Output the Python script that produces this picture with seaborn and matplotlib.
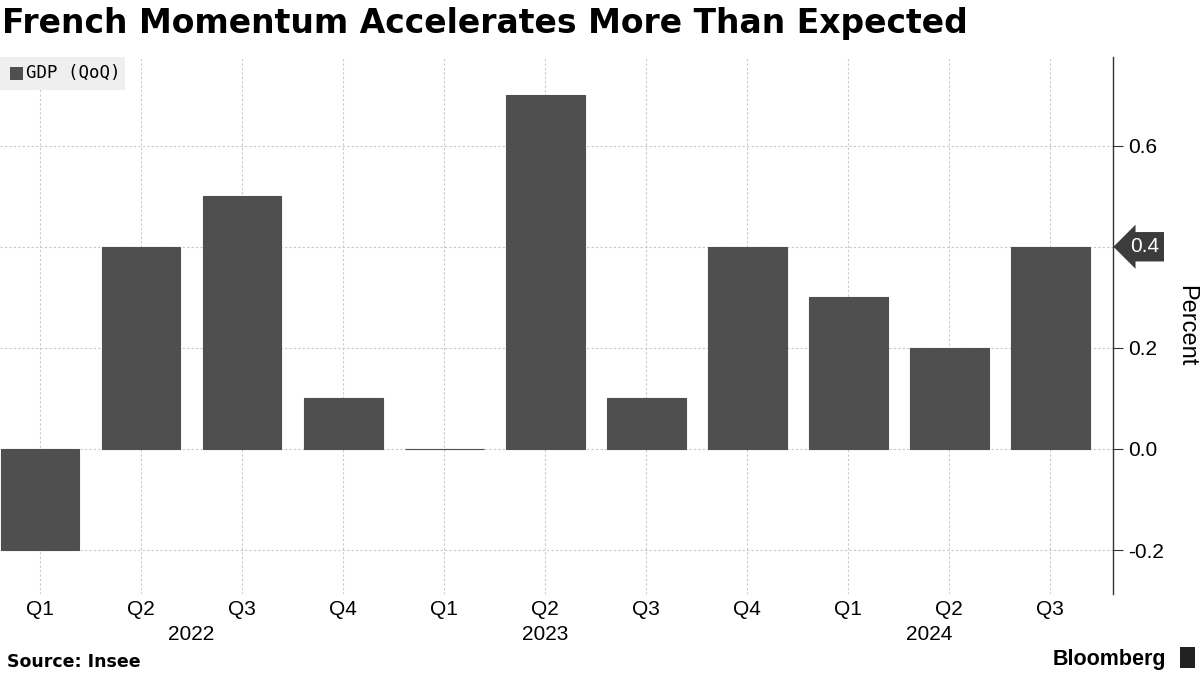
import matplotlib
matplotlib.use("Agg")
import matplotlib.pyplot as plt
import seaborn as sns
import pandas as pd

# data
periods = ["2022 Q1", "2022 Q2", "2022 Q3", "2022 Q4",
           "2023 Q1", "2023 Q2", "2023 Q3", "2023 Q4",
           "2024 Q1", "2024 Q2", "2024 Q3"]
quarters = ["Q1", "Q2", "Q3", "Q4", "Q1", "Q2", "Q3", "Q4", "Q1", "Q2", "Q3"]
gdp_qoq = [-0.2, 0.4, 0.5, 0.1, 0.0, 0.7, 0.1, 0.4, 0.3, 0.2, 0.4]
years = ["2022", "2023", "2024"]
year_pos = [1.5, 5.0, 8.8]
y_ticks = [-0.2, 0.0, 0.2, 0.4, 0.6]

BAR = "#4f4f4f"

sns.set_theme(style="white")
plt.rcParams["font.family"] = ["DejaVu Sans"]
plt.rcParams["text.color"] = "black"
plt.rcParams["xtick.color"] = "black"
plt.rcParams["ytick.color"] = "black"
plt.rcParams["axes.labelcolor"] = "black"

df = pd.DataFrame({"period": periods, "gdp": gdp_qoq})

fig = plt.figure(figsize=(12, 6.75), dpi=100)
ax = fig.add_axes([0.0, 0.12, 0.9275, 0.796])

sns.barplot(data=df, x="period", y="gdp", order=periods, color=BAR,
            width=0.78, edgecolor=BAR, linewidth=0.8, saturation=1, ax=ax)

ax.set_xlim(-0.396, 10.62)
ax.set_ylim(-0.287, 0.776)

# grid
ax.set_axisbelow(True)
ax.grid(True, axis="both", color="#c8c8c8", linestyle=(0, (2, 2)), linewidth=0.8)

for s in ["top", "left", "bottom"]:
    ax.spines[s].set_visible(False)
ax.spines["right"].set_color("#333333")
ax.spines["right"].set_linewidth(1.0)

# last value is shown in the tag, so its tick label is left blank
last = gdp_qoq[-1]
ax.yaxis.tick_right()
ax.set_yticks(y_ticks)
ax.set_yticklabels(["" if abs(v - last) < 1e-9 else f"{v:.1f}" for v in y_ticks],
                   fontsize=15, family="Liberation Sans")
ax.tick_params(axis="y", direction="out", length=7, width=0.8, color="#333333", pad=4)
ax.yaxis.set_label_position("right")
ax.set_ylabel("Percent", fontsize=17, rotation=270, labelpad=24, family="Liberation Sans")

ax.set_xticks(range(len(periods)))
ax.set_xticklabels(quarters, fontsize=15, family="Liberation Sans")
ax.tick_params(axis="x", length=0, pad=4)
ax.set_xlabel("")

for yr, xp in zip(years, year_pos):
    ax.text(xp, -0.368, yr, ha="center", va="center", fontsize=15,
            family="Liberation Sans", clip_on=False)

# last value tag
ax.annotate(f"{last:.1f}", xy=(1.0, last), xycoords=("axes fraction", "data"),
            xytext=(12, 0), textcoords="offset points", ha="left", va="center",
            fontsize=15, color="white", family="Liberation Sans",
            bbox=dict(boxstyle="larrow,pad=0.25", fc="#3c3c3c", ec="none"),
            annotation_clip=False)

# legend box
fig.patches.append(plt.Rectangle((0.0, 0.867), 0.104, 0.049, transform=fig.transFigure,
                                 fc="#efefef", ec="none", zorder=5))
fig.patches.append(plt.Rectangle((0.008, 0.882), 0.011, 0.019, transform=fig.transFigure,
                                 fc=BAR, ec="none", zorder=6))
fig.text(0.022, 0.892, "GDP (QoQ)", fontsize=12.5, va="center", ha="left",
         family="DejaVu Sans Mono", zorder=7)

fig.text(0.002, 0.965, "French Momentum Accelerates More Than Expected",
         fontsize=23.8, fontweight="bold", ha="left", va="center")
fig.text(0.006, 0.006, "Source: Insee", fontsize=12.5, fontweight="bold",
         ha="left", va="bottom")
fig.text(0.972, 0.008, "Bloomberg", fontsize=15.5, fontweight="bold",
         ha="right", va="bottom", family="Liberation Sans")
fig.patches.append(plt.Rectangle((0.9835, 0.010), 0.012, 0.031, transform=fig.transFigure,
                                 fc="#222222", ec="none"))

fig.savefig("out.png", dpi=100)
